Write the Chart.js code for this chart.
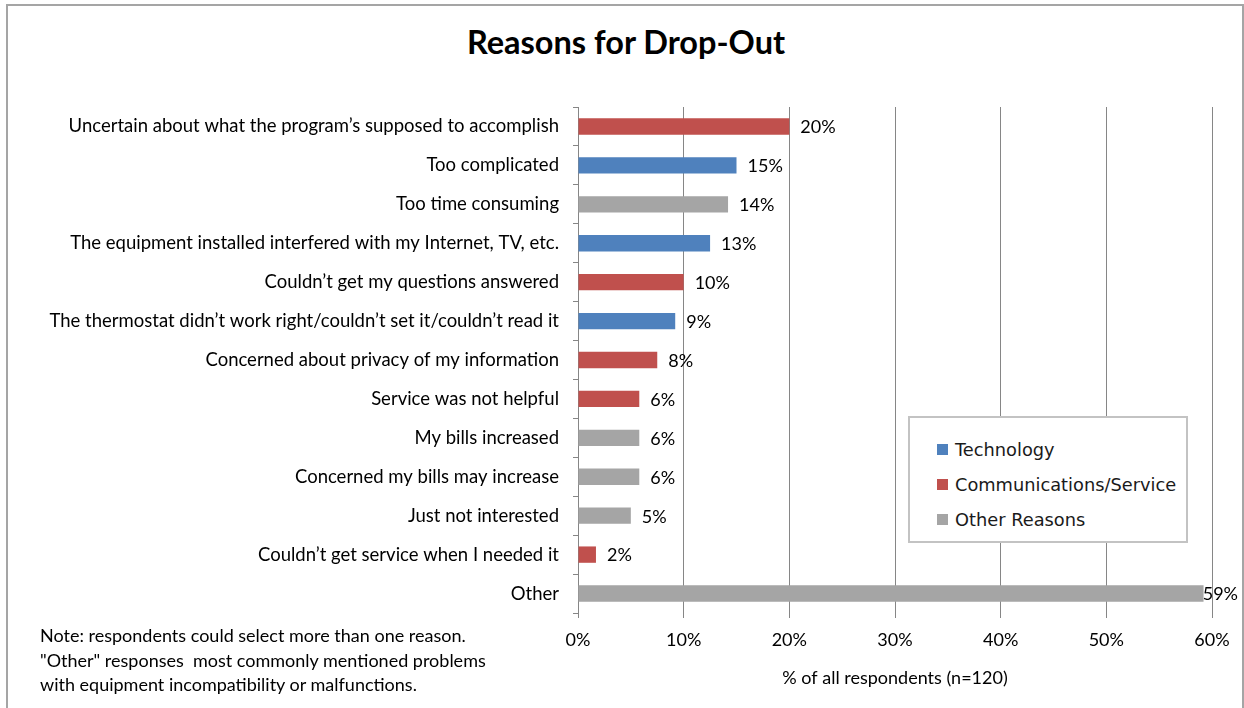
<!DOCTYPE html>
<html>
<head>
<meta charset="utf-8">
<script src="https://cdn.jsdelivr.net/npm/chart.js@4.4.0/dist/chart.umd.min.js"></script>
<style>
  html, body { margin: 0; padding: 0; background: #fff; }
  body { width: 1244px; height: 708px; position: relative; overflow: hidden; font-family: Lato, sans-serif; color: #000; }
  #frame { position: absolute; left: 6px; top: 4px; width: 1234px; height: 740px; border: 2px solid #a5a5a5; }
  #title { position: absolute; left: 0; top: 22px; width: 1252px; text-align: center; font: bold 32.5px Lato, sans-serif; }
  #note { position: absolute; left: 40px; top: 623px; font: 18px Lato, sans-serif; line-height: 24.5px; }
  #wrap { position: absolute; left: 0; top: 0; width: 1244px; height: 708px; }
  #legend { position: absolute; left: 908px; top: 416px; border: 2px solid #c3c3c3; background: #fff; padding-top: 14px; box-sizing: border-box; width: 280px; height: 127px; }
  #legend .item { display: flex; align-items: center; height: 35px; padding-left: 27px; font: 17.8px "DejaVu Sans", sans-serif; color: #1a1a1a; }
  #legend .swatch { width: 11px; height: 11px; margin-right: 7px; }
</style>
</head>
<body>
<div id="frame"></div>
<div id="title">Reasons for Drop-Out</div>
<div id="wrap"><canvas id="chart" width="1244" height="708"></canvas></div>
<div id="legend"></div>
<div id="note">Note: respondents could select more than one reason.<br>"Other" responses&nbsp; most commonly mentioned problems<br>with equipment incompatibility or malfunctions.</div>
<script>
const categories = [
  'Uncertain about what the program\u2019s supposed to accomplish',
  'Too complicated',
  'Too time consuming',
  'The equipment installed interfered with my Internet, TV, etc.',
  'Couldn\u2019t get my questions answered',
  'The thermostat didn\u2019t work right/couldn\u2019t set it/couldn\u2019t read it',
  'Concerned about privacy of my information',
  'Service was not helpful',
  'My bills increased',
  'Concerned my bills may increase',
  'Just not interested',
  'Couldn\u2019t get service when I needed it',
  'Other'
];

// % of respondents, one series per reason group (null = not in that group)
const technology     = [null, 15, null, 12.5, null, 9.2, null, null, null, null, null, null, null];
const communications = [20, null, null, null, 10, null, 7.5, 5.8, null, null, null, 1.7, null];
const otherReasons   = [null, null, 14.2, null, null, null, null, null, 5.8, 5.8, 5, null, 59.2];

const seriesNames  = ['Technology', 'Communications/Service', 'Other Reasons'];
const seriesColors = ['#4f81bd', '#c0504d', '#a5a5a5'];
const xTicks = [0, 10, 20, 30, 40, 50, 60];

const font = { family: 'Lato', size: 18 };

const barLabels = {
  id: 'barLabels',
  afterDatasetsDraw(chart) {
    const ctx = chart.ctx;
    ctx.save();
    ctx.font = '18px Lato';
    ctx.fillStyle = '#000';
    ctx.textAlign = 'left';
    ctx.textBaseline = 'middle';
    chart.data.datasets.forEach((ds, i) => {
      chart.getDatasetMeta(i).data.forEach((bar, j) => {
        const v = ds.data[j];
        if (v == null) return;
        const text = Math.round(v) + '%';
        const w = ctx.measureText(text).width;
        const x = Math.min(bar.x + 11, chart.width - 6 - w);
        ctx.fillText(text, x, bar.y + 1);
      });
    });
    ctx.restore();
  }
};

const chart = new Chart(document.getElementById('chart'), {
  type: 'bar',
  data: {
    labels: categories,
    datasets: [technology, communications, otherReasons].map((d, i) => ({
      label: seriesNames[i],
      data: d,
      backgroundColor: seriesColors[i],
      barPercentage: 0.42,
      categoryPercentage: 1
    }))
  },
  options: {
    indexAxis: 'y',
    responsive: false,
    animation: false,
    layout: { padding: { left: 0, right: 32, top: 107, bottom: 0 } },
    plugins: { legend: { display: false }, tooltip: { enabled: false } },
    scales: {
      x: {
        stacked: true,
        min: 0,
        max: 60,
        afterBuildTicks(s) { s.ticks = xTicks.map(v => ({ value: v })); },
        ticks: { callback: v => v + '%', color: '#000', font, padding: 11, maxRotation: 0 },
        grid: { color: '#868686', tickLength: 5 },
        border: { display: false },
        title: { display: true, text: '% of all respondents (n=120)', color: '#000', font, padding: { top: 0, bottom: 19 } },
        afterFit(s) { s.height = 95; }
      },
      y: {
        stacked: true,
        ticks: { color: '#000', font: { family: 'Lato', size: 18.5 }, padding: 14 },
        grid: { drawOnChartArea: false, color: '#868686', tickLength: 5 },
        border: { color: '#868686' },
        afterFit(s) { s.width = 578; }
      }
    }
  },
  plugins: [barLabels]
});

// legend box built from the datasets
const legend = document.getElementById('legend');
chart.data.datasets.forEach(ds => {
  const item = document.createElement('div');
  item.className = 'item';
  item.innerHTML = `<span class="swatch" style="background:${ds.backgroundColor}"></span>${ds.label}`;
  legend.appendChild(item);
});
</script>
</body>
</html>
